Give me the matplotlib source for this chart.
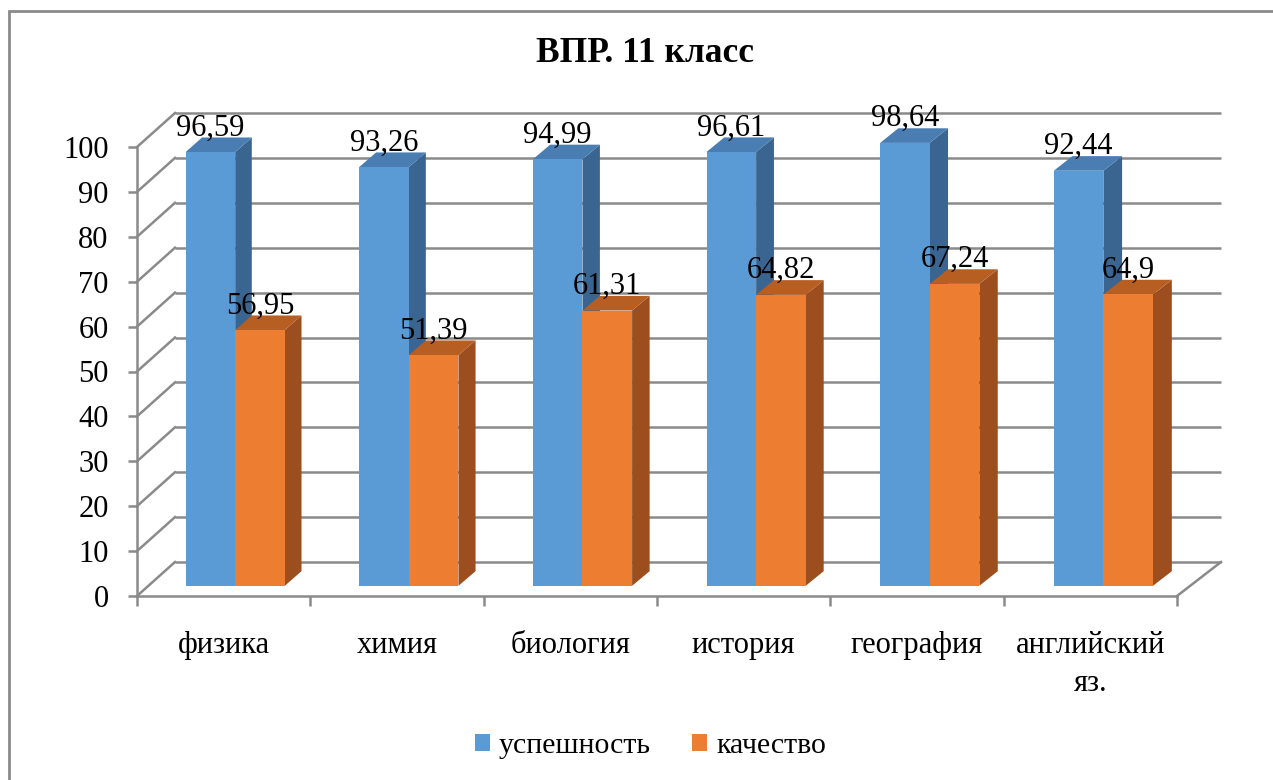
import matplotlib
matplotlib.use('Agg')
from matplotlib import pyplot as plt
from matplotlib.patches import Polygon, Patch, Rectangle
import numpy as np

plt.rcParams['font.family'] = ['Liberation Serif', 'DejaVu Serif']

# data
subjects = ['физика', 'химия', 'биология', 'история', 'география', 'английский\nяз.']
uspeshnost = [96.59, 93.26, 94.99, 96.61, 98.64, 92.44]
kachestvo = [56.95, 51.39, 61.31, 64.82, 67.24, 64.9]
series_names = ['успешность', 'качество']
yticks = list(range(0, 101, 10))

# colours: front, side, top
blue = ('#5B9BD5', '#3A6591', '#4A7DB2')
orange = ('#ED7D31', '#9C4E1E', '#B75E22')
grid_col = '#8A8A8A'
fs = 22

W, H = 1273, 780
fig = plt.figure(figsize=(W / 100, H / 100), dpi=100)

# front plane of the pseudo 3d box, in pixels
x0, x1, y0, y1 = 137, 1177, 596, 147
ax = fig.add_axes([x0 / W, 1 - y0 / H, (x1 - x0) / W, (y0 - y1) / H])
n = len(subjects)
ax.set_xlim(-0.5, n - 0.5)
ax.set_ylim(0, 100)

px_x = (x1 - x0) / n
px_y = (y0 - y1) / 100.0


def depth(x, f):
    # offset (data units) of a point at front x pushed back by fraction f
    dx_px = 38 + 6 * (x + 0.5) / n
    dy_px = 34
    return f * dx_px / px_x, f * dy_px / px_y


# back wall grid + left floor diagonals
for v in yticks:
    dxl, dyl = depth(-0.5, 1)
    dxr, _ = depth(n - 0.5, 1)
    ax.plot([-0.5 + dxl, n - 0.5 + dxr], [v + dyl, v + dyl], color=grid_col, lw=1.8,
            solid_capstyle='butt', clip_on=False, zorder=1)
    ax.plot([-0.5, -0.5 + dxl], [v, v + dyl], color=grid_col, lw=1.8, clip_on=False, zorder=1)
dxr, dyr = depth(n - 0.5, 1)
ax.plot([n - 0.5, n - 0.5 + dxr], [0, dyr], color=grid_col, lw=1.8, clip_on=False, zorder=1)

bw = 1 / 3.5
f0, f1 = 0.30, 0.73


def bar3d(xl, v, cols, z):
    xr = xl + bw
    a0 = depth(xl, f0)
    a1 = depth(xl, f1)
    b0 = depth(xr, f0)
    b1 = depth(xr, f1)
    front = [(xl + a0[0], a0[1]), (xr + b0[0], b0[1]),
             (xr + b0[0], v + b0[1]), (xl + a0[0], v + a0[1])]
    side = [(xr + b0[0], b0[1]), (xr + b1[0], b1[1]),
            (xr + b1[0], v + b1[1]), (xr + b0[0], v + b0[1])]
    top = [(xl + a0[0], v + a0[1]), (xr + b0[0], v + b0[1]),
           (xr + b1[0], v + b1[1]), (xl + a1[0], v + a1[1])]
    for pts, c in zip([side, top, front], [cols[1], cols[2], cols[0]]):
        ax.add_patch(Polygon(pts, closed=True, facecolor=c, edgecolor='none',
                             clip_on=False, zorder=z))
    cx = xl + bw / 2 + a0[0]
    ax.annotate(('%g' % v).replace('.', ','), (cx, v + a0[1]), xytext=(0, 12),
                textcoords='offset points', ha='center', va='baseline',
                fontsize=fs, annotation_clip=False, zorder=30)


for i in range(n):
    bar3d(i - bw, uspeshnost[i], blue, 3 + 2 * i)
    bar3d(i, kachestvo[i], orange, 4 + 2 * i)

# front axes
for s in ['top', 'right']:
    ax.spines[s].set_visible(False)
for s in ['left', 'bottom']:
    ax.spines[s].set_color(grid_col)
    ax.spines[s].set_linewidth(1.8)
ax.set_yticks(yticks)
ax.set_yticklabels([str(t) for t in yticks])
ax.tick_params(axis='y', length=6.5, width=1.8, color=grid_col, pad=14, labelsize=fs)
ax.set_xticks(np.arange(-0.5, n, 1.0))
ax.set_xticklabels([])
ax.set_xticks(np.arange(n), minor=True)
ax.set_xticklabels(subjects, minor=True, linespacing=1.4)
ax.tick_params(axis='x', which='major', length=7, width=1.8, color=grid_col)
ax.tick_params(axis='x', which='minor', length=0, pad=25, labelsize=fs)
ax.set_facecolor('none')

fig.text(0.5066, 1 - 54 / H, 'ВПР. 11 класс', ha='center', va='center',
         fontsize=25.5, fontweight='bold')

handles = [Patch(facecolor=blue[0], edgecolor='none', label=series_names[0]),
           Patch(facecolor=orange[0], edgecolor='none', label=series_names[1])]
fig.legend(handles=handles, loc='center', bbox_to_anchor=(0.511, 1 - 746 / H), ncol=2,
           frameon=False, fontsize=21.5, handlelength=0.5, handleheight=0.5,
           handletextpad=0.3, columnspacing=1.4)

# chart area border (right and bottom edges fall outside the picture)
fig.patches.append(Rectangle((8.5 / W, -0.1), 1.2, 1 - 11.5 / H + 0.1, transform=fig.transFigure,
                             fill=False, edgecolor=grid_col, lw=2, zorder=0))

fig.savefig('out.png', dpi=100)
